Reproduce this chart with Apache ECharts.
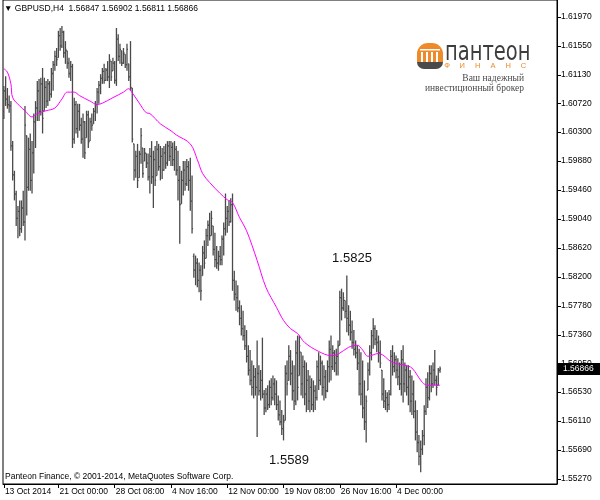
<!DOCTYPE html>
<html><head><meta charset="utf-8">
<script src="https://cdn.jsdelivr.net/npm/echarts@6/dist/echarts.min.js"></script>
<style>html,body{margin:0;padding:0;background:#fff}#c{width:600px;height:500px}</style>
</head><body><div id="c"></div>
<script>
const symbol = 'GBPUSD,H4';
const startTime = '2014-10-13T20:00:00Z';   // first visible H4 bar
const totalSlots = 315;                      // bars + empty chart shift on the right

const opens = [
1.6060,1.6090,1.6078,1.6070,1.6068,1.6010,1.5968,1.5940,1.5905,1.5915,
1.5890,1.5920,1.5900,1.6025,1.5950,1.6005,1.5960,1.6000,1.6045,1.6065,
1.6090,1.6060,1.6100,1.6061,1.6095,1.6075,1.6100,1.6085,1.6115,1.6128,
1.6140,1.6138,1.6170,1.6155,1.6175,1.6145,1.6148,1.6130,1.6115,1.6125,
1.6020,1.6070,1.6035,1.6060,1.6040,1.6020,1.6045,1.6022,1.6055,1.6017,
1.6045,1.6042,1.6060,1.6070,1.6088,1.6098,1.6108,1.6118,1.6105,1.6120,
1.6110,1.6133,1.6119,1.6130,1.6105,1.6165,1.6140,1.6148,1.6130,1.6143,
1.6128,1.6129,1.6110,1.6094,1.6013,1.5975,1.5995,1.5964,1.5998,1.6007,
1.5988,1.5999,1.5985,1.5965,1.5995,1.5965,1.5990,1.5967,1.6005,1.5980,
1.5995,1.5975,1.6000,1.5985,1.6010,1.5995,1.6008,1.5990,1.6005,1.5975,
1.5960,1.5926,1.5960,1.5975,1.5955,1.5980,1.5960,1.5930,1.5850,1.5830,
1.5840,1.5815,1.5830,1.5822,1.5855,1.5847,1.5880,1.5895,1.5880,1.5894,
1.5860,1.5845,1.5840,1.5850,1.5845,1.5875,1.5890,1.5905,1.5915,1.5900,
1.5925,1.5815,1.5795,1.5790,1.5775,1.5760,1.5745,1.5735,1.5720,1.5705,
1.5685,1.5670,1.5660,1.5675,1.5660,1.5680,1.5655,1.5670,1.5650,1.5630,
1.5650,1.5635,1.5660,1.5645,1.5665,1.5650,1.5635,1.5620,1.5610,1.5600,
1.5612,1.5680,1.5670,1.5705,1.5680,1.5655,1.5640,1.5710,1.5677,1.5711,
1.5665,1.5690,1.5650,1.5670,1.5640,1.5660,1.5635,1.5655,1.5645,1.5690,
1.5670,1.5695,1.5660,1.5675,1.5655,1.5690,1.5715,1.5690,1.5710,1.5695,
1.5705,1.5721,1.5790,1.5775,1.5786,1.5770,1.5760,1.5750,1.5740,1.5725,
1.5715,1.5710,1.5695,1.5665,1.5650,1.5630,1.5610,1.5656,1.5685,1.5710,
1.5735,1.5745,1.5730,1.5725,1.5710,1.5685,1.5650,1.5640,1.5645,1.5635,
1.5650,1.5705,1.5690,1.5700,1.5685,1.5675,1.5665,1.5700,1.5665,1.5685,
1.5660,1.5675,1.5640,1.5650,1.5625,1.5595,1.5580,1.5560,1.5570,1.5590,
1.5625,1.5660,1.5645,1.5680,1.5665,1.5685,1.5670,1.5663,1.56847];

const highs = [
1.6097,1.6111,1.6094,1.6083,1.6075,1.6017,1.5974,1.5945,1.5923,1.5931,
1.5931,1.5945,1.6068,1.6025,1.6022,1.6028,1.6017,1.6057,1.6075,1.6104,
1.6107,1.6109,1.6123,1.6109,1.6104,1.6107,1.6104,1.6123,1.6133,1.6148,
1.6152,1.6177,1.6181,1.6184,1.6177,1.6162,1.6148,1.6138,1.6133,1.6129,
1.6080,1.6075,1.6071,1.6071,1.6051,1.6057,1.6046,1.6061,1.6061,1.6051,
1.6057,1.6065,1.6075,1.6094,1.6104,1.6114,1.6123,1.6129,1.6123,1.6133,
1.6143,1.6133,1.6138,1.6133,1.6181,1.6172,1.6158,1.6148,1.6152,1.6143,
1.6158,1.6129,1.6162,1.6094,1.6013,1.6003,1.6013,1.6003,1.6036,1.6007,
1.6007,1.5999,1.5999,1.6007,1.6017,1.6003,1.6010,1.6017,1.6013,1.6010,
1.6007,1.6010,1.6013,1.6017,1.6017,1.6017,1.6015,1.6017,1.6010,1.6003,
1.5981,1.5974,1.5988,1.5988,1.5991,1.5988,1.5993,1.5967,1.5854,1.5851,
1.5847,1.5841,1.5837,1.5865,1.5873,1.5890,1.5902,1.5913,1.5916,1.5894,
1.5884,1.5865,1.5858,1.5865,1.5880,1.5899,1.5941,1.5923,1.5931,1.5934,
1.5941,1.5829,1.5815,1.5808,1.5786,1.5779,1.5771,1.5750,1.5743,1.5721,
1.5714,1.5699,1.5692,1.5688,1.5728,1.5692,1.5685,1.5732,1.5656,1.5659,
1.5663,1.5670,1.5673,1.5677,1.5673,1.5670,1.5648,1.5641,1.5627,1.5620,
1.5692,1.5699,1.5721,1.5714,1.5699,1.5692,1.5728,1.5735,1.5735,1.5711,
1.5706,1.5699,1.5696,1.5685,1.5677,1.5673,1.5670,1.5663,1.5699,1.5711,
1.5706,1.5699,1.5692,1.5685,1.5699,1.5728,1.5735,1.5721,1.5714,1.5716,
1.5728,1.5800,1.5803,1.5798,1.5786,1.5822,1.5779,1.5771,1.5757,1.5743,
1.5728,1.5721,1.5716,1.5711,1.5699,1.5670,1.5648,1.5696,1.5721,1.5743,
1.5760,1.5750,1.5743,1.5735,1.5728,1.5685,1.5673,1.5656,1.5653,1.5656,
1.5714,1.5721,1.5711,1.5706,1.5702,1.5696,1.5714,1.5721,1.5696,1.5692,
1.5692,1.5685,1.5677,1.5670,1.5641,1.5627,1.5591,1.5583,1.5598,1.5634,
1.5673,1.5682,1.5692,1.5692,1.5696,1.5714,1.5677,1.5688,1.56902];

const lows = [
1.6049,1.6068,1.6064,1.6058,1.6003,1.5960,1.5931,1.5894,1.5876,1.5879,
1.5884,1.5894,1.5873,1.5909,1.5945,1.5945,1.5941,1.5970,1.6007,1.6046,
1.6046,1.6054,1.6028,1.6061,1.6065,1.6068,1.6075,1.6080,1.6090,1.6119,
1.6126,1.6138,1.6148,1.6152,1.6138,1.6129,1.6122,1.6109,1.6104,1.6007,
1.6013,1.6028,1.6022,1.6032,1.6013,1.5993,1.5991,1.6022,1.6007,1.6017,
1.6032,1.6042,1.6046,1.6057,1.6071,1.6085,1.6100,1.6100,1.6104,1.6104,
1.6094,1.6104,1.6119,1.6100,1.6097,1.6133,1.6129,1.6126,1.6129,1.6123,
1.6119,1.6104,1.6090,1.6015,1.5960,1.5964,1.5949,1.5964,1.5984,1.5964,
1.5988,1.5978,1.5960,1.5941,1.5955,1.5920,1.5952,1.5967,1.5974,1.5960,
1.5962,1.5974,1.5977,1.5981,1.5988,1.5981,1.5981,1.5974,1.5967,1.5931,
1.5868,1.5926,1.5938,1.5945,1.5952,1.5945,1.5916,1.5883,1.5819,1.5808,
1.5805,1.5798,1.5786,1.5822,1.5832,1.5847,1.5865,1.5873,1.5880,1.5851,
1.5834,1.5832,1.5829,1.5837,1.5837,1.5851,1.5880,1.5884,1.5894,1.5899,
1.5800,1.5786,1.5771,1.5769,1.5750,1.5735,1.5728,1.5714,1.5696,1.5677,
1.5663,1.5648,1.5644,1.5648,1.5588,1.5648,1.5641,1.5644,1.5620,1.5624,
1.5627,1.5630,1.5634,1.5641,1.5634,1.5627,1.5612,1.5605,1.5591,1.5583,
1.5612,1.5648,1.5670,1.5663,1.5641,1.5627,1.5634,1.5641,1.5677,1.5648,
1.5644,1.5634,1.5624,1.5627,1.5624,1.5627,1.5624,1.5627,1.5641,1.5656,
1.5663,1.5648,1.5641,1.5644,1.5653,1.5667,1.5670,1.5685,1.5682,1.5677,
1.5677,1.5721,1.5757,1.5771,1.5760,1.5740,1.5735,1.5728,1.5716,1.5706,
1.5702,1.5685,1.5648,1.5634,1.5615,1.5598,1.5580,1.5656,1.5677,1.5699,
1.5716,1.5721,1.5711,1.5696,1.5688,1.5641,1.5630,1.5627,1.5624,1.5627,
1.5648,1.5677,1.5682,1.5673,1.5663,1.5656,1.5648,1.5638,1.5653,1.5648,
1.5634,1.5624,1.5620,1.5615,1.5583,1.5566,1.5547,1.5537,1.5562,1.5576,
1.5620,1.5630,1.5641,1.5653,1.5659,1.5663,1.5648,1.5663,1.56811];

const closes = [
1.6090,1.6078,1.6070,1.6068,1.6010,1.5968,1.5940,1.5905,1.5915,1.5890,
1.5920,1.5900,1.6040,1.5950,1.6005,1.5960,1.6000,1.6045,1.6065,1.6090,
1.6060,1.6100,1.6050,1.6095,1.6075,1.6100,1.6085,1.6115,1.6128,1.6140,
1.6135,1.6170,1.6155,1.6175,1.6145,1.6150,1.6130,1.6115,1.6125,1.6020,
1.6070,1.6035,1.6060,1.6040,1.6020,1.6045,1.6000,1.6055,1.6015,1.6045,
1.6040,1.6060,1.6070,1.6088,1.6098,1.6108,1.6118,1.6105,1.6120,1.6110,
1.6135,1.6110,1.6130,1.6105,1.6165,1.6140,1.6150,1.6130,1.6145,1.6128,
1.6150,1.6110,1.6095,1.6020,1.5975,1.5995,1.5960,1.5998,1.6025,1.5970,
1.6000,1.5985,1.5965,1.5995,1.5965,1.5990,1.5960,1.6005,1.5980,1.5995,
1.5975,1.6000,1.5985,1.6010,1.5995,1.6008,1.5990,1.6005,1.5975,1.5960,
1.5925,1.5960,1.5975,1.5955,1.5980,1.5960,1.5930,1.5890,1.5830,1.5840,
1.5815,1.5830,1.5800,1.5855,1.5840,1.5880,1.5895,1.5880,1.5905,1.5860,
1.5845,1.5840,1.5850,1.5845,1.5875,1.5890,1.5905,1.5915,1.5900,1.5925,
1.5815,1.5795,1.5790,1.5775,1.5760,1.5745,1.5735,1.5720,1.5705,1.5685,
1.5670,1.5660,1.5675,1.5660,1.5680,1.5655,1.5670,1.5650,1.5630,1.5650,
1.5635,1.5660,1.5645,1.5665,1.5650,1.5635,1.5620,1.5610,1.5600,1.5610,
1.5680,1.5665,1.5705,1.5680,1.5655,1.5640,1.5710,1.5660,1.5720,1.5665,
1.5690,1.5650,1.5670,1.5640,1.5660,1.5635,1.5655,1.5645,1.5690,1.5670,
1.5695,1.5660,1.5675,1.5655,1.5690,1.5715,1.5690,1.5710,1.5695,1.5705,
1.5720,1.5790,1.5775,1.5790,1.5770,1.5760,1.5750,1.5740,1.5725,1.5715,
1.5710,1.5695,1.5665,1.5650,1.5630,1.5610,1.5640,1.5685,1.5710,1.5735,
1.5745,1.5730,1.5725,1.5710,1.5695,1.5650,1.5640,1.5645,1.5635,1.5650,
1.5705,1.5690,1.5700,1.5685,1.5675,1.5665,1.5700,1.5665,1.5685,1.5660,
1.5675,1.5640,1.5650,1.5625,1.5595,1.5580,1.5560,1.5570,1.5590,1.5625,
1.5660,1.5645,1.5680,1.5665,1.5685,1.5670,1.5660,1.5685,1.56866];

// moving average: [bar index, price]
const maPoints = [
[0,1.6122],[2,1.6117],[4,1.6100],[5,1.6080],[9,1.6068],[12,1.6061],[16,1.6052],[19,1.6057],
[24,1.6061],[29,1.6065],[33,1.6078],[36,1.6088],[40,1.6088],[43,1.6083],[49,1.6075],[53,1.6070],
[56,1.6072],[62,1.6080],[68,1.6088],[71,1.6093],[73,1.6087],[77,1.6072],[81,1.6058],[83,1.6057],
[89,1.6042],[95,1.6032],[98,1.6026],[106,1.6013],[110,1.5990],[113,1.5970],[117,1.5957],[123,1.5941],
[127,1.5932],[130,1.5928],[134,1.5906],[138,1.5887],[144,1.5844],[149,1.5805],[155,1.5776],[159,1.5757],
[163,1.5745],[167,1.5738],[171,1.5725],[179,1.5712],[186,1.5706],[190,1.5708],[196,1.5718],[201,1.5721],
[204,1.5714],[207,1.5705],[213,1.5709],[221,1.5696],[228,1.5692],[232,1.5688],[238,1.5667],[241,1.5663],[248,1.5663]];

const yTickValues = [1.55270,1.55690,1.56110,1.56530,1.56950,1.57360,1.57780,1.58200,1.58620,
  1.59040,1.59460,1.59880,1.60300,1.60720,1.61130,1.61550,1.61970];
const xTickLabels = ['13 Oct 2014','21 Oct 00:00','28 Oct 08:00','4 Nov 16:00','12 Nov 00:00','19 Nov 08:00','26 Nov 16:00','4 Dec 00:00'];
const noteHigh = '1.5825';
const noteLow = '1.5589';
const copyright = 'Panteon Finance, \u00a9 2001-2014, MetaQuotes Software Corp.';

// ---- build time categories (H4, weekdays only)
const MONTHS = ['Jan','Feb','Mar','Apr','May','Jun','Jul','Aug','Sep','Oct','Nov','Dec'];
const times = [];
let t = Date.parse(startTime);
while (times.length < totalSlots) {
  const d = new Date(t);
  const wd = d.getUTCDay();
  if (wd !== 0 && wd !== 6) times.push(d);
  t += 4 * 3600 * 1000;
}
const pad = n => (n < 10 ? '0' : '') + n;
const categories = times.map(d => d.getUTCDate() + ' ' + MONTHS[d.getUTCMonth()] + ' ' + pad(d.getUTCHours()) + ':' + pad(d.getUTCMinutes()));
const labelFor = i => i === 0 ? (times[0].getUTCDate() + ' ' + MONTHS[times[0].getUTCMonth()] + ' ' + times[0].getUTCFullYear()) : categories[i];
const isTick = i => xTickLabels.indexOf(labelFor(i)) >= 0;

const FONT = 'Liberation Sans, Arial, sans-serif';
const last = opens.length - 1;
const fmt = v => v.toFixed(5);
const titleText = '\u25BC ' + symbol + '  ' + fmt(opens[last]) + ' ' + fmt(highs[last]) + ' ' + fmt(lows[last]) + ' ' + fmt(closes[last]);

const chart = echarts.init(document.getElementById('c'), null, {renderer: 'canvas'});
const barData = opens.map((o, i) => [i, o, highs[i], lows[i], closes[i]]);

chart.setOption({
  animation: false,
  backgroundColor: '#fff',
  grid: {left: 3, right: 43, top: -1, bottom: 16, show: true, borderColor: '#000', borderWidth: 1, backgroundColor: 'transparent'},
  xAxis: {
    type: 'category', data: categories, boundaryGap: true,
    axisLine: {show: true, lineStyle: {color: '#000', width: 1}},
    axisTick: {show: true, alignWithLabel: true, length: 4, interval: (i) => isTick(i), lineStyle: {color: '#000'}},
    axisLabel: {interval: (i) => isTick(i), formatter: (v, i) => labelFor(i), align: 'left', margin: 3, padding: [0,0,0,1],
      fontSize: 8.5, fontFamily: FONT, color: '#000'},
    splitLine: {show: false}
  },
  yAxis: {
    type: 'value', position: 'right', min: 1.55198, max: 1.62216,
    axisLine: {show: true, lineStyle: {color: '#000', width: 1}},
    axisTick: {show: true, length: 4, customValues: yTickValues, lineStyle: {color: '#000'}},
    axisLabel: {customValues: yTickValues, formatter: v => v.toFixed(5), margin: 4, fontSize: 8.5, fontFamily: FONT, color: '#000'},
    splitLine: {show: false}
  },
  series: [
    {
      type: 'custom', data: barData, encode: {x: 0, y: [1, 2, 3, 4]}, silent: true, clip: true,
      renderItem: (params, api) => {
        const x = api.value(0);
        const o = api.coord([x, api.value(1)]);
        const h = api.coord([x, api.value(2)]);
        const l = api.coord([x, api.value(3)]);
        const c = api.coord([x, api.value(4)]);
        const style = {stroke: '#4a4a4a', lineWidth: 1.3};
        return {type: 'group', children: [
          {type: 'line', shape: {x1: h[0], y1: h[1], x2: l[0], y2: l[1]}, style},
          {type: 'line', shape: {x1: o[0] - 1, y1: o[1], x2: o[0], y2: o[1]}, style},
          {type: 'line', shape: {x1: c[0], y1: c[1], x2: c[0] + 1, y2: c[1]}, style}
        ]};
      }
    },
    {
      type: 'line', data: maPoints, smooth: 0.35, showSymbol: false, silent: true,
      lineStyle: {color: '#ff00ff', width: 1}
    }
  ]
});

const yLast = chart.convertToPixel({yAxisIndex: 0}, closes[last]);
const finLetters = ['Ф','И','Н','А','Н','С'];
const graphics = [
  {type: 'text', x: 4, y: 9, style: {text: titleText, fontSize: 8.5, fontFamily: FONT, fill: '#000', verticalAlign: 'middle'}},
  {type: 'text', x: 5, y: 477, style: {text: copyright, fontSize: 8.5, fontFamily: FONT, fill: '#000', verticalAlign: 'middle'}},
  {type: 'text', x: 352, y: 258, style: {text: noteHigh, fontSize: 13, fontFamily: FONT, fill: '#111', align: 'center', verticalAlign: 'middle'}},
  {type: 'text', x: 289, y: 460, style: {text: noteLow, fontSize: 13, fontFamily: FONT, fill: '#111', align: 'center', verticalAlign: 'middle'}},
  // price label
  {type: 'rect', shape: {x: 558, y: yLast - 6, width: 42, height: 12}, style: {fill: '#000'}},
  {type: 'text', x: 563, y: yLast, style: {text: fmt(closes[last]), fontSize: 8.5, fontFamily: FONT, fill: '#fff', verticalAlign: 'middle'}},
  // logo
  {type: 'rect', shape: {x: 417, y: 43, width: 26, height: 20, r: [11, 11, 1, 1]}, style: {fill: '#ee8a2a'}},
  {type: 'rect', shape: {x: 420, y: 49, width: 20, height: 1.5}, style: {fill: '#fff'}},
  {type: 'rect', shape: {x: 421, y: 52, width: 2, height: 10}, style: {fill: '#fff'}},
  {type: 'rect', shape: {x: 426, y: 52, width: 2, height: 10}, style: {fill: '#fff'}},
  {type: 'rect', shape: {x: 431, y: 52, width: 2, height: 10}, style: {fill: '#fff'}},
  {type: 'rect', shape: {x: 436, y: 52, width: 2, height: 10}, style: {fill: '#fff'}},
  {type: 'rect', shape: {x: 417, y: 62, width: 26, height: 7, r: [0, 0, 8, 8]}, style: {fill: '#4a4a4a'}},
  {type: 'text', x: 445, y: 53, scaleX: 0.75, style: {text: 'пантеон', fontSize: 26, fontFamily: 'DejaVu Sans, sans-serif', fill: '#3d3d3d', verticalAlign: 'middle'}},
  {type: 'text', x: 524, y: 78.5, style: {text: 'Ваш надежный', fontSize: 9.5, fontFamily: 'Liberation Serif, DejaVu Serif, serif', fill: '#4a4a4a', align: 'right', verticalAlign: 'middle'}},
  {type: 'text', x: 524, y: 88.5, style: {text: 'инвестиционный брокер', fontSize: 9.5, fontFamily: 'Liberation Serif, DejaVu Serif, serif', fill: '#4a4a4a', align: 'right', verticalAlign: 'middle'}}
];
finLetters.forEach((ch, k) => {
  graphics.push({type: 'text', x: 447 + k * 15.3, y: 65.5, style: {text: ch, fontSize: 7.5, fontFamily: FONT, fill: '#ee8a2a', align: 'center', verticalAlign: 'middle'}});
});
chart.setOption({graphic: graphics});
</script>
</body></html>
